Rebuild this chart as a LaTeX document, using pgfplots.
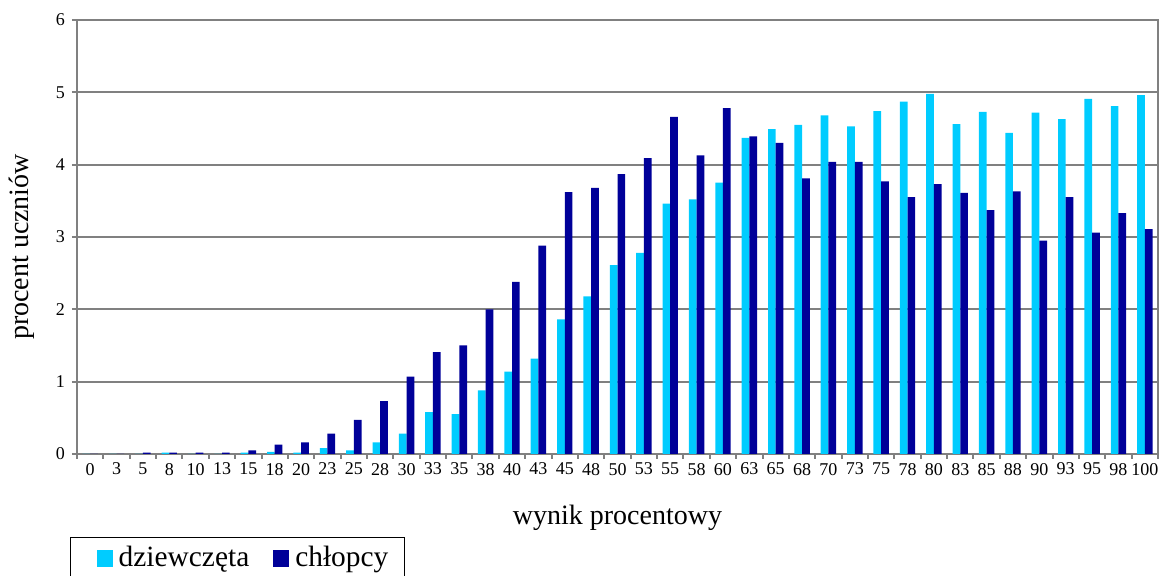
\documentclass[border=0pt]{standalone}
\usepackage{fontspec}
\setmainfont{Liberation Serif}
\usepackage{pgfplots}
\pgfplotsset{compat=1.18}
\usepackage{pgfplotstable}
\definecolor{girls}{HTML}{00CCFF}
\definecolor{boys}{HTML}{000099}
\definecolor{axgray}{HTML}{808080}

\pgfplotstableread{
x g b
0 0 0
1 0 0
2 0 0.02
3 0.02 0.02
4 0 0.02
5 0 0.02
6 0.02 0.05
7 0.03 0.13
8 0.02 0.16
9 0.08 0.28
10 0.05 0.47
11 0.16 0.73
12 0.28 1.07
13 0.58 1.41
14 0.55 1.50
15 0.88 2.00
16 1.14 2.38
17 1.32 2.88
18 1.86 3.62
19 2.18 3.68
20 2.61 3.87
21 2.78 4.09
22 3.46 4.66
23 3.52 4.13
24 3.75 4.78
25 4.37 4.39
26 4.49 4.30
27 4.55 3.81
28 4.68 4.04
29 4.53 4.04
30 4.74 3.77
31 4.87 3.55
32 4.98 3.73
33 4.56 3.61
34 4.73 3.37
35 4.44 3.63
36 4.72 2.95
37 4.63 3.55
38 4.91 3.06
39 4.81 3.33
40 4.96 3.11
}\data

\pgfplotsset{sqlegend/.style={legend image code/.code={\path[draw=none,fill=none] (0pt,0pt) (19pt,0pt);\fill[##1] (10pt,-5pt) rectangle (18pt,3.5pt);}}}

\begin{document}
\begin{tikzpicture}
\useasboundingbox (-38.5pt,-61pt) rectangle (541.5pt,227pt);
\begin{axis}[
  scale only axis, width=540.5pt, height=217pt,
  at={(0,0)}, anchor=south west,
  xmin=-0.5, xmax=40.5, ymin=0, ymax=6,
  ybar=0pt, bar width=3.85pt,
  xtick={0,...,40},
  xticklabels={0,3,5,8,10,13,15,18,20,23,25,28,30,33,35,38,40,43,45,48,50,53,55,58,60,63,65,68,70,73,75,78,80,83,85,88,90,93,95,98,100},
  minor xtick={-0.5,0.5,...,40.5},
  ytick={0,1,2,3,4,5,6},
  xtick pos=bottom, ytick pos=left,
  tick align=outside,
  major tick length=2.5pt, minor tick length=2.5pt,
  major x tick style={draw=none},
  tick style={axgray, line width=1pt},
  axis line style={axgray, line width=1pt},
  ymajorgrids, grid style={axgray, line width=1pt},
  /pgf/number format/assume math mode=true,
  ticklabel style={font=\fontsize{9}{10}\selectfont},
  xticklabel style={yshift=1.5pt},
  xlabel={wynik procentowy},
  ylabel={procent uczniów},
  xlabel style={at={(axis description cs:0.5,-0.147)}, anchor=center, font=\fontsize{14}{16}\selectfont},
  ylabel style={at={(axis description cs:-0.0509,0.477)}, anchor=center, rotate=0, font=\fontsize{14}{16}\selectfont},
  legend columns=2,
  legend style={at={(axis description cs:-0.0065,-0.191)}, anchor=north west,
    draw=black, line width=0.75pt, font=\fontsize{14.7}{16}\selectfont,
    /tikz/every even column/.append style={column sep=0pt}},
]
\addplot[fill=girls, draw=none, sqlegend] table[x=x,y=g]{\data};
\addplot[fill=boys, draw=none, sqlegend] table[x=x,y=b]{\data};
\legend{dziewczęta, chłopcy\rule{3pt}{0pt}}
\end{axis}
\end{tikzpicture}
\end{document}
